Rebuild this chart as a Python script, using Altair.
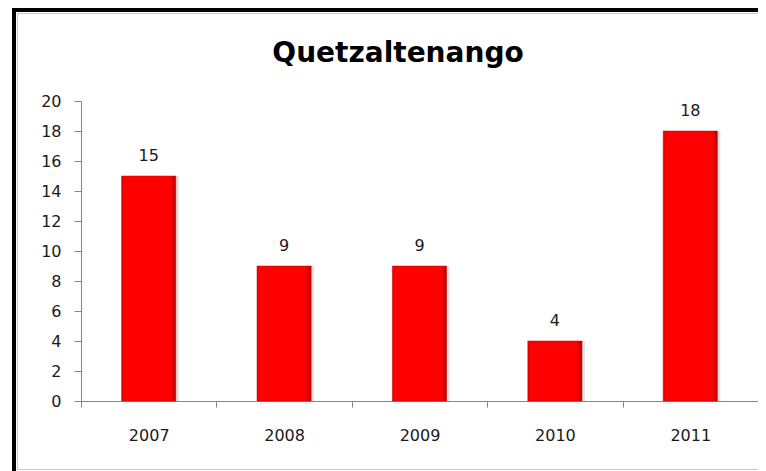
import altair as alt
import pandas as pd

years = ["2007", "2008", "2009", "2010", "2011"]
values = [15, 9, 9, 4, 18]
y_ticks = [0, 2, 4, 6, 8, 10, 12, 14, 16, 18, 20]
title_text = "Quetzaltenango"

df = pd.DataFrame({"year": years, "value": values})
FONT = "DejaVu Sans"

base = alt.Chart(df)

x_enc = alt.X("year:N", title=None, sort=years,
              scale=alt.Scale(paddingInner=0, paddingOuter=0),
              axis=alt.Axis(labelAngle=0, tickBand="extent", domainColor="#868686",
                            tickColor="#868686", tickSize=6, labelPadding=20,
                            labelFont=FONT, labelFontSize=16, labelColor="#1a1a1a"))
y_enc = alt.Y("value:Q", title=None,
              scale=alt.Scale(domain=[0, 20], nice=False),
              axis=alt.Axis(values=y_ticks, grid=False, domainColor="#868686",
                            tickColor="#868686", tickSize=7, labelPadding=13,
                            labelFont=FONT, labelFontSize=16, labelColor="#1a1a1a"))

BW = alt.RelativeBandSize(0.4)

shadow = base.mark_bar(color="#000000", opacity=0.12, xOffset=3, width=BW).encode(x=x_enc, y=y_enc)

bars = base.mark_bar(
    width=BW,
    color=alt.Gradient(
        gradient="linear", x1=0, x2=1, y1=0, y2=0,
        stops=[alt.GradientStop(color="#d80000", offset=0),
               alt.GradientStop(color="#ff0000", offset=0.04),
               alt.GradientStop(color="#ff0000", offset=0.9),
               alt.GradientStop(color="#b80000", offset=1)]),
    stroke="#c00000", strokeWidth=0.5
).encode(x=x_enc, y=y_enc)

labels = base.mark_text(baseline="bottom", dy=-12, font=FONT, fontSize=16,
                        color="#1a1a1a").encode(x=x_enc, y=y_enc, text="value:Q")

frame_df = pd.DataFrame({"a": [0]})
outer = alt.Chart(frame_df).mark_rect(fill=None, stroke="#000000", strokeWidth=4).encode(
    x=alt.value(-67), x2=alt.value(800), y=alt.value(-91), y2=alt.value(500))
inner = alt.Chart(frame_df).mark_rect(fill=None, stroke="#c8c8c8", strokeWidth=1).encode(
    x=alt.value(-63.5), x2=alt.value(800), y=alt.value(-87.5), y2=alt.value(368.5))

title_df = pd.DataFrame({"t": [title_text]})
title = alt.Chart(title_df).mark_text(font=FONT, fontSize=28, fontWeight="bold",
                                      color="#000000", align="center",
                                      baseline="alphabetic").encode(
    x=alt.value(317), y=alt.value(-39), text="t:N")

chart = alt.layer(outer, inner, title, shadow, bars, labels).properties(
    width=677, height=300,
    autosize=alt.AutoSizeParams(type="none"),
    padding={"left": 73, "top": 93, "right": 0, "bottom": 70},
).configure_view(stroke=None)

chart.save("out.html", embed_options={"renderer": "svg", "actions": False})
